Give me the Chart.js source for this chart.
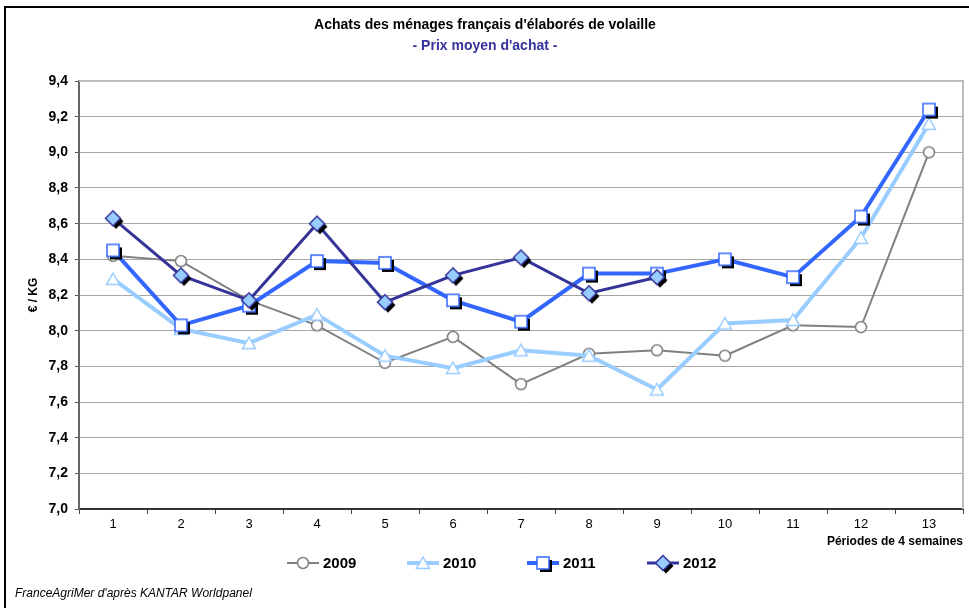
<!DOCTYPE html>
<html lang="fr">

<head>
    <meta charset="UTF-8">
    <title>Achats des ménages - élaborés de volaille</title>
    <script src="https://cdn.jsdelivr.net/npm/chart.js"></script>
    <style>
        body {
            margin: 0;
            background: white;
        }

        canvas {
            display: block;
        }
    </style>
</head>

<body>
    <canvas id="prixChart" width="969" height="608"></canvas>

    <script>
        // Périodes de 4 semaines
        const periodes = ['1', '2', '3', '4', '5', '6', '7', '8', '9', '10', '11', '12', '13'];

        // Prix moyen d'achat (€ / KG) par année
        const prix2009 = [8.42, 8.39, 8.17, 8.03, 7.82, 7.965, 7.70, 7.87, 7.89, 7.86, 8.03, 8.02, 9.00];
        const prix2010 = [8.29, 8.01, 7.93, 8.09, 7.86, 7.79, 7.89, 7.86, 7.67, 8.04, 8.06, 8.52, 9.16];
        const prix2011 = [8.45, 8.03, 8.14, 8.39, 8.38, 8.17, 8.05, 8.32, 8.32, 8.40, 8.30, 8.64, 9.24];
        const prix2012 = [8.63, 8.31, 8.17, 8.60, 8.16, 8.31, 8.41, 8.21, 8.30, null, null, null, null];

        const annees = ['2009', '2010', '2011', '2012'];

        const police = "Arial, 'Liberation Sans', sans-serif";

        // Petits marqueurs dessinés à la main (avec ombre noire pour carré et losange)
        function marqueur(forme, fond, contour, ombre) {
            const c = document.createElement('canvas');
            const taille = forme === 'losange' ? 24 : forme === 'carre' ? 20 : 16;
            c.width = taille;
            c.height = taille;
            const ctx = c.getContext('2d');
            const m = taille / 2;

            function trace(dx, dy) {
                ctx.beginPath();
                if (forme === 'rond') {
                    ctx.arc(m + dx, m + dy, 5.5, 0, Math.PI * 2);
                } else if (forme === 'triangle') {
                    ctx.moveTo(m + dx, m - 6 + dy);
                    ctx.lineTo(m + 6.5 + dx, m + 5.5 + dy);
                    ctx.lineTo(m - 6.5 + dx, m + 5.5 + dy);
                    ctx.closePath();
                } else if (forme === 'carre') {
                    ctx.rect(m - 6 + dx, m - 6 + dy, 12, 12);
                } else {
                    ctx.moveTo(m + dx, m - 7.5 + dy);
                    ctx.lineTo(m + 7.5 + dx, m + dy);
                    ctx.lineTo(m + dx, m + 7.5 + dy);
                    ctx.lineTo(m - 7.5 + dx, m + dy);
                    ctx.closePath();
                }
            }

            if (ombre) {
                trace(3, 3);
                ctx.fillStyle = '#000';
                ctx.fill();
            }
            trace(0, 0);
            ctx.fillStyle = fond;
            ctx.fill();
            ctx.lineWidth = 1.5;
            ctx.strokeStyle = contour;
            ctx.stroke();
            return c;
        }

        const series = [
            { label: annees[0], data: prix2009, couleur: '#808080', epaisseur: 2, point: marqueur('rond', '#fff', '#808080', false), ordre: 3 },
            { label: annees[1], data: prix2010, couleur: '#99ccff', epaisseur: 4, point: marqueur('triangle', '#fff', '#99ccff', false), ordre: 2 },
            { label: annees[2], data: prix2011, couleur: '#3366ff', epaisseur: 4, point: marqueur('carre', '#fff', '#3366ff', true), ordre: 1 },
            { label: annees[3], data: prix2012, couleur: '#333399', epaisseur: 3, point: marqueur('losange', '#99ccff', '#333399', true), ordre: 0 }
        ];

        // Titres, légende, source et cadre
        const decor = {
            id: 'decor',
            beforeDraw(chart) {
                const ctx = chart.ctx;
                ctx.save();
                ctx.fillStyle = '#fff';
                ctx.fillRect(0, 0, chart.width, chart.height);
                ctx.restore();
            },
            afterDraw(chart) {
                const ctx = chart.ctx;
                const a = chart.chartArea;
                ctx.save();

                // bord haut et droit de la zone de tracé
                ctx.strokeStyle = '#bdbdbd';
                ctx.lineWidth = 2;
                ctx.beginPath();
                ctx.moveTo(a.left, a.top);
                ctx.lineTo(a.right, a.top);
                ctx.lineTo(a.right, a.bottom);
                ctx.stroke();

                // cadre extérieur
                ctx.fillStyle = '#000';
                ctx.fillRect(4, 6, 2, chart.height - 6);
                ctx.fillRect(4, 6, chart.width - 4, 2);

                // titres
                ctx.textAlign = 'center';
                ctx.textBaseline = 'middle';
                ctx.font = 'bold 14px ' + police;
                ctx.fillStyle = '#000';
                ctx.fillText("Achats des ménages français d'élaborés de volaille", 485, 25);
                ctx.fillStyle = '#333399';
                ctx.fillText("- Prix moyen d'achat -", 485, 46);

                // légende
                const y = 563;
                chart.data.datasets.forEach((ds, i) => {
                    const x = 287 + i * 120;
                    ctx.strokeStyle = ds.borderColor;
                    ctx.lineWidth = ds.borderWidth;
                    ctx.beginPath();
                    ctx.moveTo(x, y);
                    ctx.lineTo(x + 32, y);
                    ctx.stroke();
                    const p = ds.pointStyle;
                    ctx.drawImage(p, x + 16 - p.width / 2, y - p.height / 2);
                    ctx.fillStyle = '#000';
                    ctx.font = 'bold 15px ' + police;
                    ctx.textAlign = 'left';
                    ctx.fillText(ds.label, x + 36, y + 1);
                });

                // source
                ctx.font = 'italic 12px ' + police;
                ctx.fillStyle = '#000';
                ctx.textAlign = 'left';
                ctx.fillText("FranceAgriMer d'après KANTAR Worldpanel", 15, 594);

                ctx.restore();
            }
        };

        new Chart(document.getElementById('prixChart').getContext('2d'), {
            type: 'line',
            data: {
                labels: periodes,
                datasets: series.map(s => ({
                    label: s.label,
                    data: s.data,
                    borderColor: s.couleur,
                    backgroundColor: s.couleur,
                    borderWidth: s.epaisseur,
                    pointStyle: s.point,
                    pointRadius: 6,
                    pointHoverRadius: 6,
                    tension: 0,
                    fill: false,
                    order: s.ordre
                }))
            },
            options: {
                responsive: false,
                animation: false,
                events: [],
                layout: {
                    autoPadding: false,
                    padding: { left: 5, top: 81, right: 6, bottom: 59 }
                },
                plugins: {
                    legend: { display: false },
                    title: { display: false },
                    tooltip: { enabled: false }
                },
                scales: {
                    x: {
                        offset: true,
                        afterFit(scale) {
                            scale.height = 40;
                            scale.paddingLeft = 0;
                            scale.paddingRight = 0;
                        },
                        grid: {
                            offset: true,
                            drawOnChartArea: false,
                            drawTicks: true,
                            tickLength: 5,
                            tickColor: '#444'
                        },
                        border: { color: '#333', width: 2 },
                        ticks: {
                            color: '#000',
                            padding: 3,
                            maxRotation: 0,
                            font: { family: police, size: 13 }
                        },
                        title: {
                            display: true,
                            text: 'Périodes de 4 semaines',
                            align: 'end',
                            color: '#000',
                            padding: { top: 0, bottom: 0 },
                            font: { family: police, size: 12, weight: 'bold' }
                        }
                    },
                    y: {
                        min: 7.0,
                        max: 9.4,
                        afterFit(scale) { scale.width = 74; },
                        grid: {
                            color: '#a6a6a6',
                            lineWidth: 1,
                            tickLength: 4,
                            tickColor: '#555'
                        },
                        border: { color: '#666', width: 2 },
                        ticks: {
                            stepSize: 0.2,
                            color: '#000',
                            padding: 7,
                            font: { family: police, size: 14, weight: 'bold' },
                            callback: v => v.toFixed(1).replace('.', ',')
                        },
                        title: {
                            display: true,
                            text: '€ / KG',
                            color: '#000',
                            padding: { top: 21, bottom: 0 },
                            font: { family: police, size: 12, weight: 'bold' }
                        }
                    }
                }
            },
            plugins: [decor]
        });
    </script>
</body>

</html>
